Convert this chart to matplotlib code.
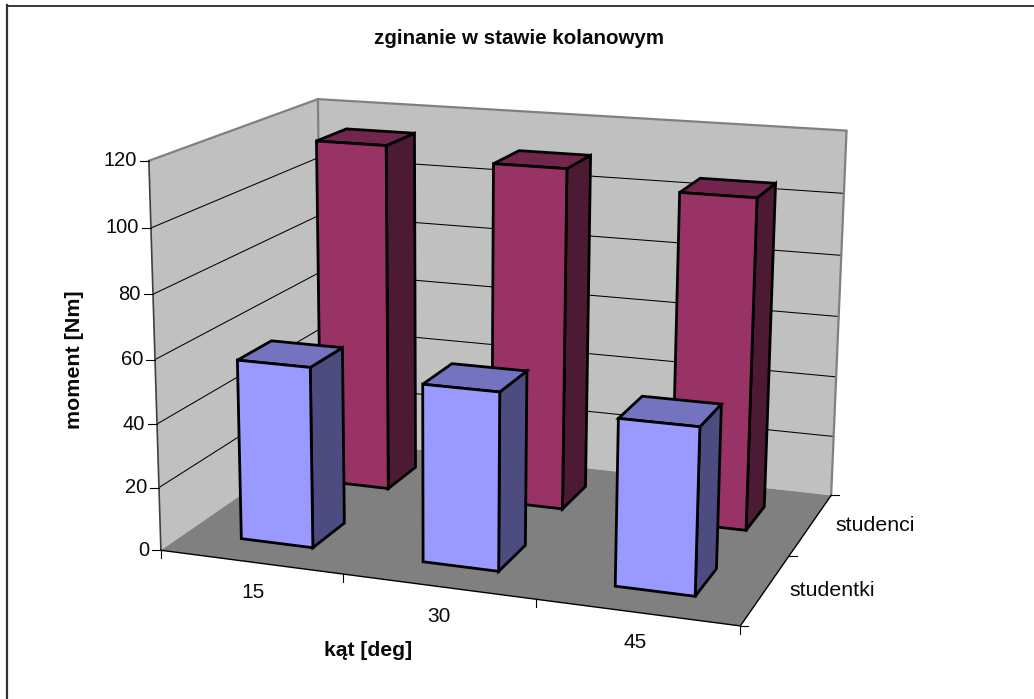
import numpy as np
import matplotlib
matplotlib.use("Agg")
import matplotlib.pyplot as plt
from matplotlib.lines import Line2D
from mpl_toolkits.mplot3d.art3d import Poly3DCollection, Line3DCollection

plt.rcParams['font.family'] = ['Liberation Sans', 'DejaVu Sans']

# Chart data
angles = ['15', '30', '45']
groups = ['studentki', 'studenci']
studentki = [57, 55.3, 51]
studenci = [114, 110.5, 105.5]
value_ticks = [0, 20, 40, 60, 80, 100, 120]

WIDTH, HEIGHT = 1034, 699
XMAX, YMAX, ZMAX = 3.0, 2.0, 120.0

# Camera: world corners of the plot box and where they land on the canvas
box_world = [(0, 0, 0), (3, 0, 0), (3, 2, 0), (0, 2, 0), (0, 0, 120), (0, 2, 120), (3, 2, 120)]
box_canvas = [(163, 549.5), (740, 627), (832, 494), (320, 440), (147, 160.5), (320, 99), (846, 131)]


def fit_camera(world, canvas):
    rows = []
    for (x, y, z), (u, v) in zip(world, canvas):
        p = [x, y, z / 40.0, 1.0]
        rows.append(p + [0, 0, 0, 0] + [-u * c for c in p])
        rows.append([0, 0, 0, 0] + p + [-v * c for c in p])
    P = np.linalg.svd(np.array(rows))[2][-1].reshape(3, 4)
    P[:, 2] /= 40.0
    return P / P[2, 3]


P = fit_camera(box_world, box_canvas)
M = np.vstack([P[0], P[1], [0, 1, 0, 0], P[2]])


def project(x, y, z):
    u, v, w = P @ np.array([x, y, z, 1.0])
    return u / w, v / w


fig = plt.figure(figsize=(WIDTH / 100, HEIGHT / 100), dpi=100, facecolor='white')
ax = fig.add_axes([0, 0, 1, 1], projection='3d', computed_zorder=False)
ax.set_axis_off()
ax.patch.set_alpha(0)
ax.get_proj = lambda: M
ax.apply_aspect = lambda position=None: None
ax.set_position([0, 0, 1, 1])
ax.viewLim.intervalx = (0, WIDTH)
ax.viewLim.intervaly = (HEIGHT, 0)


def face(points, color, z, edge='none', lw=0.0):
    poly = Poly3DCollection([points], facecolors=color, edgecolors=edge,
                            linewidths=lw, zorder=z)
    poly.set_joinstyle('miter')
    ax.add_collection3d(poly, autolim=False)


def line(points, color='black', lw=0.8, z=2):
    segment = Line3DCollection([points], colors=color, linewidths=lw, zorder=z)
    segment.set_capstyle('projecting')
    segment.set_joinstyle('miter')
    ax.add_collection3d(segment, autolim=False)


def pixel_line(xs, ys, color='black', lw=0.8, z=3):
    ax.add_line(Line2D(xs, ys, color=color, lw=lw, zorder=z))


def label(px, py, text, **kw):
    kw.setdefault('color', '#0a0a0a')
    ax.text2D(px / WIDTH, 1 - py / HEIGHT, text, transform=fig.transFigure, **kw)


# Chart area border: only the top and left sides show
pixel_line([7, WIDTH], [5.5, 5.5], color='black', lw=1.1)
pixel_line([7, 7], [5, HEIGHT], color='#303030', lw=1.6)

# Walls and floor
WALL, FLOOR, EDGE = '#C0C0C0', '#808080', '#808080'
face([(0, 0, 0), (0, YMAX, 0), (0, YMAX, ZMAX), (0, 0, ZMAX)], WALL, 1)
face([(0, YMAX, 0), (XMAX, YMAX, 0), (XMAX, YMAX, ZMAX), (0, YMAX, ZMAX)], WALL, 1)
face([(0, 0, 0), (XMAX, 0, 0), (XMAX, YMAX, 0), (0, YMAX, 0)], FLOOR, 1)

# Gridlines run along both walls
for v in value_ticks[1:-1]:
    line([(0, 0, v), (0, YMAX, v), (XMAX, YMAX, v)], color='black', lw=0.75, z=2)

# Wall outline
line([(0, 0, ZMAX), (0, YMAX, ZMAX), (XMAX, YMAX, ZMAX), (XMAX, YMAX, 0)], color=EDGE, lw=1.6, z=2)
line([(0, YMAX, 0), (0, YMAX, ZMAX)], color=EDGE, lw=1.6, z=2)
line([(0, 0, 0), (0, 0, ZMAX)], color='#404040', lw=1.2, z=2)
line([(0, 0, 0), (XMAX, 0, 0), (XMAX, YMAX, 0)], color='black', lw=1.0, z=2)

# Tick marks and their labels
for v in value_ticks:
    u, w = project(0, 0, v)
    pixel_line([u - 9, u], [w, w])
    label(u - 12, w, str(v), ha='right', va='center', fontsize=14.5)
for i in range(4):
    u, w = project(i, 0, 0)
    pixel_line([u, u], [w, w + 8])
for i, name in enumerate(angles):
    u, w = project(i + 0.5, 0, 0)
    label(u + 2 - 1.75 * i, w + 30, name, ha='center', va='center', fontsize=15)
for j in range(3):
    u, w = project(XMAX, j, 0)
    pixel_line([u, u + 8], [w, w])
for j, name in enumerate(groups):
    u, w = project(XMAX, j + 0.5, 0)
    label(u + 24, w + 1.5, name, ha='left', va='center', fontsize=15.4)


# Bars, painted back row first
def bar(i, j, value, front, side, top, z):
    x0, x1 = i + 0.3, i + 0.7
    y0, y1 = j + 0.3, j + 0.7
    kw = dict(edge='black', lw=2.0)
    face([(x1, y0, 0), (x1, y1, 0), (x1, y1, value), (x1, y0, value)], side, z, **kw)
    face([(x0, y0, value), (x1, y0, value), (x1, y1, value), (x0, y1, value)], top, z, **kw)
    face([(x0, y0, 0), (x1, y0, 0), (x1, y0, value), (x0, y0, value)], front, z, **kw)


for i, v in enumerate(studenci):
    bar(i, 1, v, '#993366', '#4D1A33', '#73264D', 5 + i)
for i, v in enumerate(studentki):
    bar(i, 0, v, '#9999FF', '#4C4C80', '#7373BF', 10 + i)

# Titles
label(518.5, 38, 'zginanie w stawie kolanowym', ha='center', va='center', fontsize=14.8, fontweight='bold')
label(75, 359.5, 'moment [Nm]', rotation=90, ha='center', va='center', fontsize=15.4, fontweight='bold')
label(368, 651, 'kąt [deg]', ha='center', va='center', fontsize=15.2, fontweight='bold')

fig.savefig('out.png', dpi=100, facecolor='white')
